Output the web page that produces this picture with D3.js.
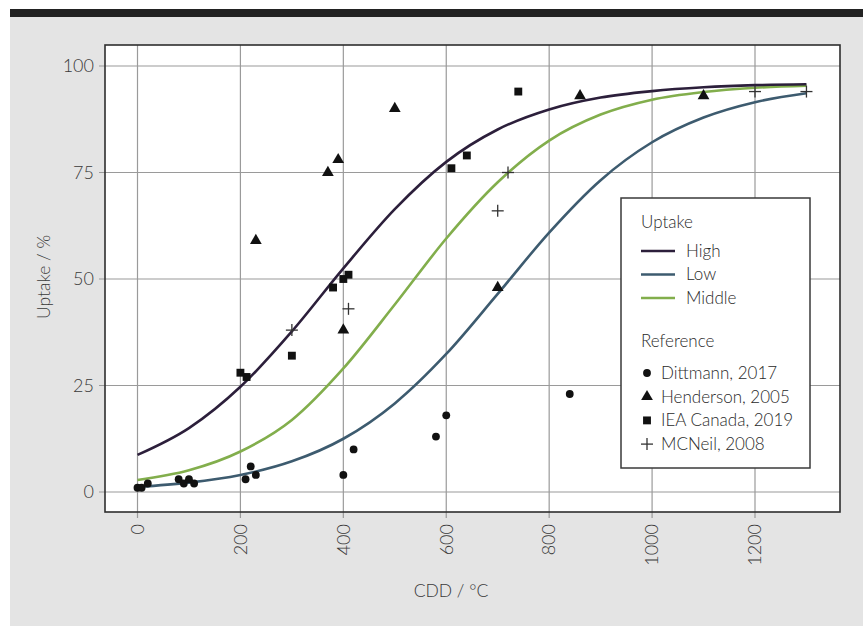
<!DOCTYPE html>
<html>
<head>
<meta charset="utf-8">
<script src="https://cdn.jsdelivr.net/npm/d3@7"></script>
<style>
  html, body { margin: 0; padding: 0; background: #fff; }
  svg { display: block; font-family: Lato, "Open Sans", sans-serif; font-weight: 300; }
  .tick-label { fill: #3a3a3a; font-size: 18px; }
  .axis-title { fill: #3a3a3a; font-size: 17.5px; }
  .legend text { fill: #2a2a2a; font-size: 17px; }
</style>
</head>
<body>
<svg id="chart" width="863" height="626"></svg>
<script>
  // fitted uptake curves, every 100 CDD
  const curveX = [0, 100, 200, 300, 400, 500, 600, 700, 800, 900, 1000, 1100, 1200, 1300];
  const highUptake = [8.7, 15.0, 24.7, 37.7, 52.5, 66.4, 77.5, 85.1, 89.8, 92.6, 94.1, 95.0, 95.5, 95.7];
  const lowUptake = [1.2, 2.2, 4.0, 7.2, 12.5, 20.8, 32.4, 46.5, 60.9, 73.2, 82.1, 87.9, 91.5, 93.6];
  const middleUptake = [2.8, 5.1, 9.5, 16.9, 29.0, 44.0, 59.5, 72.7, 82.5, 88.6, 92.1, 93.9, 94.9, 95.4];

  // study points [CDD, uptake]
  const dittmann = [[0, 1], [8, 1], [20, 2], [80, 3], [90, 2], [100, 3], [110, 2], [210, 3], [220, 6],
    [230, 4], [400, 4], [420, 10], [580, 13], [600, 18], [840, 23]];
  const henderson = [[230, 59], [370, 75], [390, 78], [400, 38], [500, 90], [700, 48], [860, 93], [1100, 93]];
  const ieaCanada = [[200, 28], [212, 27], [300, 32], [380, 48], [400, 50], [410, 51], [610, 76], [640, 79], [740, 94]];
  const mcneil = [[300, 38], [410, 43], [700, 66], [720, 75], [1200, 94], [1300, 94]];

  const xTicks = [0, 200, 400, 600, 800, 1000, 1200];
  const yTicks = [0, 25, 50, 75, 100];

  const svg = d3.select('#chart');

  // paper background + top rule
  svg.append('rect').attr('x', 10).attr('y', 9).attr('width', 853).attr('height', 617).attr('fill', '#e4e4e4');
  svg.append('rect').attr('x', 10).attr('y', 9).attr('width', 853).attr('height', 8).attr('fill', '#222');

  const panel = {left: 105, top: 45, right: 840, bottom: 512};

  const x = d3.scaleLinear().domain([0, 1200]).range([137.5, 755]);
  const y = d3.scaleLinear().domain([0, 100]).range([492, 66]);

  svg.append('rect')
    .attr('x', panel.left).attr('y', panel.top)
    .attr('width', panel.right - panel.left).attr('height', panel.bottom - panel.top)
    .attr('fill', '#fff');

  // grid
  svg.append('g').selectAll('line').data(xTicks).join('line')
    .attr('x1', d => x(d)).attr('x2', d => x(d))
    .attr('y1', panel.top).attr('y2', panel.bottom + 6)
    .attr('stroke', '#9a9a9a').attr('stroke-width', 1.2);
  svg.append('g').selectAll('line').data(yTicks).join('line')
    .attr('y1', d => y(d)).attr('y2', d => y(d))
    .attr('x1', panel.left - 6).attr('x2', panel.right)
    .attr('stroke', '#9a9a9a').attr('stroke-width', 1.2);

  svg.append('rect')
    .attr('x', panel.left).attr('y', panel.top)
    .attr('width', panel.right - panel.left).attr('height', panel.bottom - panel.top)
    .attr('fill', 'none').attr('stroke', '#2e2e2e').attr('stroke-width', 1.6);

  // tick labels
  svg.append('g').selectAll('text').data(yTicks).join('text')
    .attr('class', 'tick-label')
    .attr('x', 94).attr('y', d => y(d)).attr('dy', '0.35em')
    .attr('text-anchor', 'end')
    .text(d => d);
  svg.append('g').selectAll('text').data(xTicks).join('text')
    .attr('class', 'tick-label')
    .attr('transform', d => `translate(${x(d)},524) rotate(-90)`)
    .attr('dy', '0.35em')
    .attr('text-anchor', 'end')
    .text(d => d);

  svg.append('text').attr('class', 'axis-title')
    .attr('x', 451).attr('y', 597).attr('text-anchor', 'middle')
    .text('CDD / °C');
  svg.append('text').attr('class', 'axis-title')
    .attr('transform', 'translate(50,277) rotate(-90)')
    .attr('text-anchor', 'middle')
    .text('Uptake / %');

  // curves
  const line = d3.line()
    .x(d => x(d[0]))
    .y(d => y(d[1]))
    .curve(d3.curveMonotoneX);

  const series = [
    {name: 'High', values: highUptake, color: '#2c1f3b'},
    {name: 'Low', values: lowUptake, color: '#3d5b6f'},
    {name: 'Middle', values: middleUptake, color: '#82ae4c'}
  ];

  const plot = svg.append('g');
  plot.selectAll('path.curve').data([series[2], series[1], series[0]]).join('path')
    .attr('class', 'curve')
    .attr('d', s => line(curveX.map((cx, i) => [cx, s.values[i]])))
    .attr('fill', 'none')
    .attr('stroke', s => s.color)
    .attr('stroke-width', 2.6);

  // markers
  const markerColor = '#111';
  const sym = {
    circle: d3.symbol().type(d3.symbolCircle).size(48),
    triangle: d3.symbol().type(d3.symbolTriangle).size(60),
    square: d3.symbol().type(d3.symbolSquare).size(62)
  };

  plot.selectAll('path.dit').data(dittmann).join('path')
    .attr('class', 'dit')
    .attr('transform', d => `translate(${x(d[0])},${y(d[1])})`)
    .attr('d', sym.circle()).attr('fill', markerColor);
  plot.selectAll('path.hen').data(henderson).join('path')
    .attr('class', 'hen')
    .attr('transform', d => `translate(${x(d[0])},${y(d[1])})`)
    .attr('d', sym.triangle()).attr('fill', markerColor);
  plot.selectAll('path.iea').data(ieaCanada).join('path')
    .attr('class', 'iea')
    .attr('transform', d => `translate(${x(d[0])},${y(d[1])})`)
    .attr('d', sym.square()).attr('fill', markerColor);
  const plus = plot.selectAll('g.mcn').data(mcneil).join('g')
    .attr('class', 'mcn')
    .attr('transform', d => `translate(${x(d[0])},${y(d[1])})`);
  plus.append('line').attr('x1', -6).attr('x2', 6).attr('stroke', '#333').attr('stroke-width', 1.3);
  plus.append('line').attr('y1', -6).attr('y2', 6).attr('stroke', '#333').attr('stroke-width', 1.3);

  // legend
  const legend = svg.append('g').attr('class', 'legend');
  legend.append('rect')
    .attr('x', 621).attr('y', 198).attr('width', 189).attr('height', 270)
    .attr('fill', '#fff').attr('stroke', '#3a3a3a').attr('stroke-width', 1.5);
  legend.append('text').attr('x', 641).attr('y', 228).text('Uptake');
  series.forEach((s, i) => {
    const ly = 251 + i * 23.5;
    legend.append('line')
      .attr('x1', 641).attr('x2', 675).attr('y1', ly).attr('y2', ly)
      .attr('stroke', s.color).attr('stroke-width', 2.6);
    legend.append('text').attr('x', 686).attr('y', ly).attr('dy', '0.35em').text(s.name);
  });
  legend.append('text').attr('x', 641).attr('y', 347).text('Reference');

  const refs = ['Dittmann, 2017', 'Henderson, 2005', 'IEA Canada, 2019', 'MCNeil, 2008'];
  refs.forEach((r, i) => {
    const ly = 373 + i * 23.7;
    const g = legend.append('g').attr('transform', `translate(647,${ly})`);
    if (i === 0) g.append('path').attr('d', sym.circle()).attr('fill', markerColor);
    if (i === 1) g.append('path').attr('d', sym.triangle()).attr('fill', markerColor);
    if (i === 2) g.append('path').attr('d', sym.square()).attr('fill', markerColor);
    if (i === 3) {
      g.append('line').attr('x1', -6).attr('x2', 6).attr('stroke', '#333').attr('stroke-width', 1.3);
      g.append('line').attr('y1', -6).attr('y2', 6).attr('stroke', '#333').attr('stroke-width', 1.3);
    }
    legend.append('text').attr('x', 661).attr('y', ly).attr('dy', '0.35em').text(r);
  });
</script>
</body>
</html>
